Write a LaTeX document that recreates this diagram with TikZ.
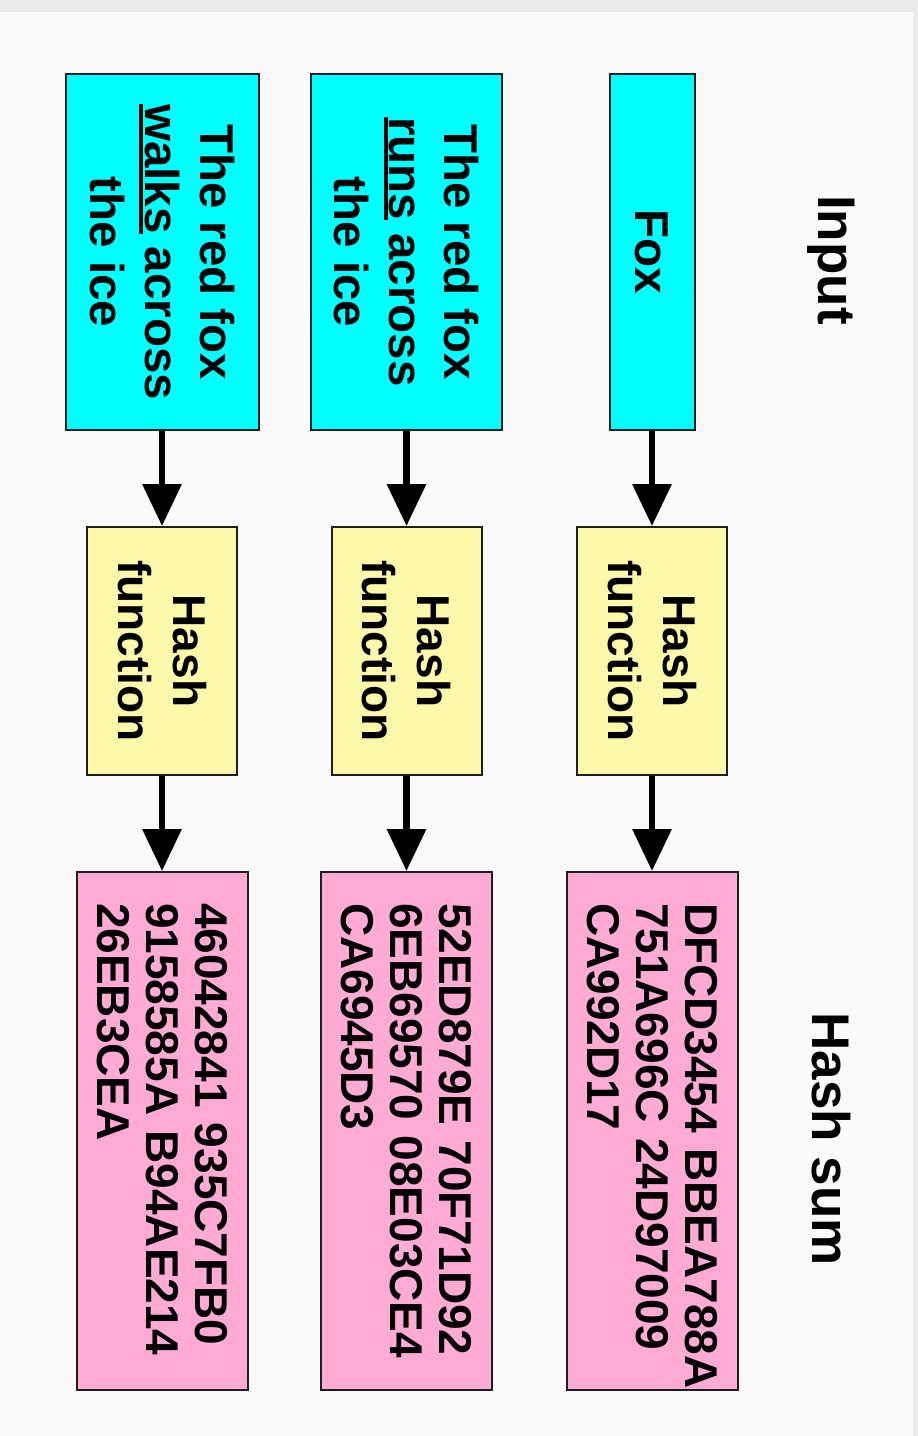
\documentclass[tikz,border=0pt]{standalone}
\usepackage{fontspec}
\setmainfont{Liberation Sans}
\usetikzlibrary{arrows.meta}
\definecolor{bgouter}{RGB}{235,235,235}
\definecolor{bginner}{RGB}{250,250,250}
\definecolor{incol}{RGB}{0,255,255}
\definecolor{hashcol}{RGB}{252,249,170}
\definecolor{sumcol}{RGB}{255,171,212}
\definecolor{edgecol}{RGB}{30,30,30}
\newcommand\myul[1]{\sbox0{#1}\rlap{\rule[-6pt]{\wd0}{4pt}}\usebox0}
\begin{document}
\begin{tikzpicture}[x=1pt,y=1pt,
  box/.style={draw=edgecol, line width=2pt, rotate=-90, inner sep=0pt, align=center,
    font=\fontsize{46}{55}\selectfont\bfseries},
  inbox/.style={box, fill=incol, minimum width=356pt, font=\fontsize{47.5}{55}\selectfont\bfseries},
  hashbox/.style={box, fill=hashcol, minimum width=248pt, minimum height=150pt},
  sumbox/.style={box, fill=sumcol, minimum width=518pt, minimum height=171pt,
    text width=456pt, inner xsep=31pt, align=left,
    font=\fontsize{46}{49}\selectfont\bfseries},
  titletext/.style={rotate=-90, inner sep=0pt, font=\fontsize{53}{60}\selectfont\bfseries},
  arr/.style={line width=6.5pt, -{Triangle[width=38pt,length=42pt]}}]
  \useasboundingbox (0,0) rectangle (918,-1436);
  \fill[bgouter] (0,0) rectangle (918,-1436);
  \fill[bginner] (0,-12) rectangle (913,-1436);

  % titles
  \node[titletext] (tin) at (831,-260) {Input};
  \node[titletext] (tsum) at (831,-1139) {Hash sum};

  % input boxes
  \node[inbox, minimum height=193pt] (in1) at (162,-252) {The red fox\\\myul{walks} across\\the ice};
  \node[inbox, minimum height=191pt] (in2) at (406.5,-252) {The red fox\\\myul{runs} across\\the ice};
  \node[inbox, minimum height=85pt] (in3) at (652,-252) {Fox};

  % hash function boxes
  \node[hashbox] (h1) at (162,-651) {Hash\\function};
  \node[hashbox] (h2) at (406.5,-651) {Hash\\function};
  \node[hashbox] (h3) at (652,-651) {Hash\\function};

  % hash sum boxes
  \node[sumbox] (s1) at (162,-1131) {\mbox{46042841 935C7FB0}\\\mbox{9158585A B94AE214}\\\mbox{26EB3CEA}};
  \node[sumbox] (s2) at (406.5,-1131) {\mbox{52ED879E 70F71D92}\\\mbox{6EB69570 08E03CE4}\\\mbox{CA6945D3}};
  \node[sumbox] (s3) at (652,-1131) {\mbox{DFCD3454 BBEA788A}\\\mbox{751A696C 24D97009}\\\mbox{CA992D17}};

  % arrows
  \draw[arr] (in1.east) -- (h1.west);
  \draw[arr] (in2.east) -- (h2.west);
  \draw[arr] (in3.east) -- (h3.west);
  \draw[arr] (h1.east) -- (s1.west);
  \draw[arr] (h2.east) -- (s2.west);
  \draw[arr] (h3.east) -- (s3.west);
\end{tikzpicture}
\end{document}
